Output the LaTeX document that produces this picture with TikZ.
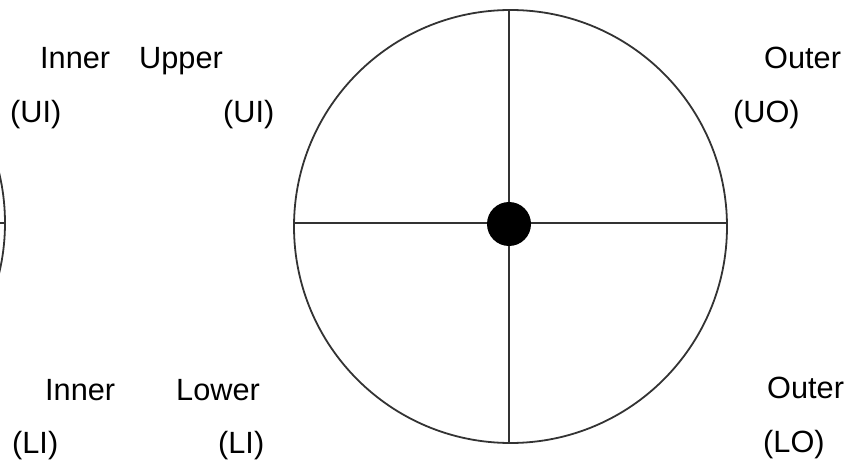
\documentclass[tikz,border=0pt]{standalone}
\usepackage{fontspec}
\setmainfont{Liberation Sans}
\begin{document}
\begin{tikzpicture}[x=1pt,y=1pt,
  ring/.style={circle,draw=black!80,line width=1.8pt,inner sep=0pt,minimum size=433pt},
  spoke/.style={draw=black!80,line width=1.8pt},
  hubdot/.style={circle,fill=black,inner sep=0pt,minimum size=44pt},
  lbl/.style={anchor=base west,inner sep=0pt,font=\fontsize{30.7}{36}\selectfont}]
\useasboundingbox (0,0) rectangle (859,464);
\clip (0,0) rectangle (859,464);
% main wheel
\node[ring] (wheel) at (510.5,237.5) {};
\coordinate (vtop) at (509,454.5);
\coordinate (vbot) at (509,21);
\coordinate (hl) at (294,241);
\coordinate (hr) at (727,241);
\draw[spoke] (vtop) -- (vbot);
\draw[spoke] (hl) -- (hr);
\node[hubdot] (hub) at (509,240) {};
% partial wheel on the left edge
\node[ring] (leftwheel) at (-211.5,241) {};
\draw[spoke] (leftwheel.center) -- (leftwheel.east);
% labels
\node[lbl] (innerU) at (40,395) {Inner};
\node[lbl] (upper) at (139,395) {Upper};
\node[lbl] (uiL) at (10,341) {(UI)};
\node[lbl] (uiR) at (223,341) {(UI)};
\node[lbl] (outerU) at (764,395) {Outer};
\node[lbl] (uo) at (733,341.5) {(UO)};
\node[lbl] (innerL) at (45,64) {Inner};
\node[lbl] (lower) at (176,64) {Lower};
\node[lbl] (liL) at (12,11) {(LI)};
\node[lbl] (liR) at (218,11) {(LI)};
\node[lbl] (outerL) at (767,66) {Outer};
\node[lbl] (lo) at (763,12) {(LO)};
\end{tikzpicture}
\end{document}
